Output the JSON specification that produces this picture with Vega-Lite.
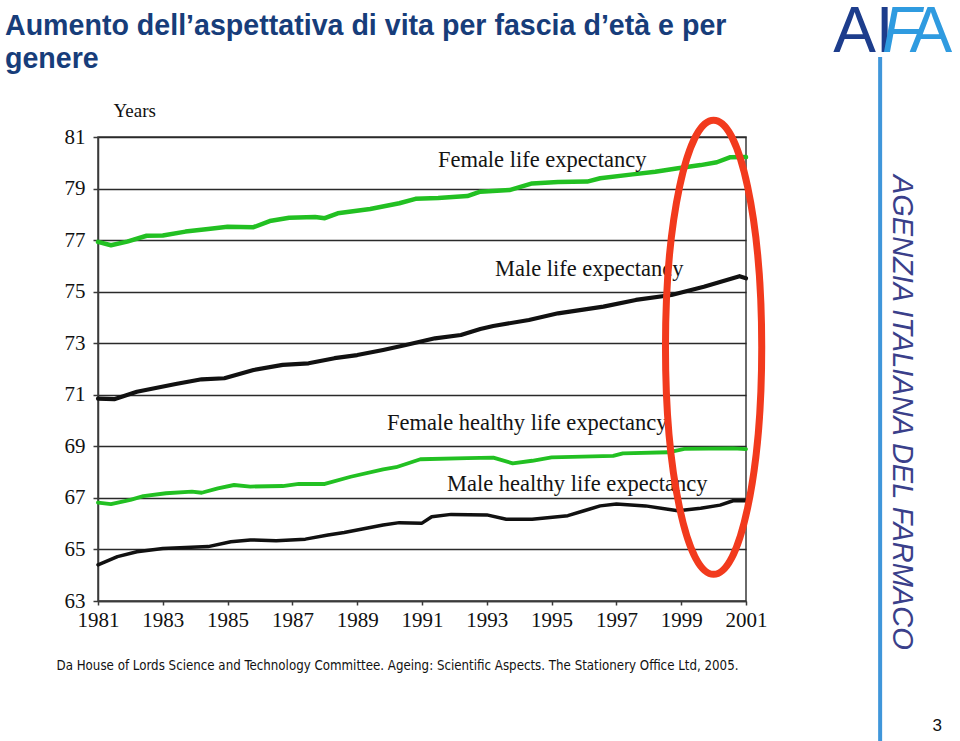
{
  "$schema": "https://vega.github.io/schema/vega-lite/v6.json",
  "width": 648,
  "height": 464,
  "autosize": {"type": "none"},
  "padding": {"left": 98, "top": 137, "right": 214, "bottom": 140},
  "background": "white",
  "config": {
    "view": {"stroke": "#3a3a3a", "strokeWidth": 1.5},
    "axis": {"labelFont": "Liberation Serif", "titleFont": "Liberation Serif"}
  },
  "title": {
    "text": ["Aumento dell’aspettativa di vita per fascia d’età e per", "genere"],
    "anchor": "start",
    "frame": "group",
    "orient": "top",
    "font": "Liberation Sans",
    "fontSize": 28.6,
    "fontWeight": "bold",
    "color": "#173d7a",
    "lineHeight": 33,
    "dx": -93,
    "dy": 92,
    "offset": 20
  },
  "datasets": {
    "series": [
      {"series": "Female life expectancy", "year": 1981.0, "value": 76.93},
      {"series": "Female life expectancy", "year": 1981.4, "value": 76.8},
      {"series": "Female life expectancy", "year": 1981.9, "value": 76.94},
      {"series": "Female life expectancy", "year": 1982.5, "value": 77.17},
      {"series": "Female life expectancy", "year": 1983.0, "value": 77.18},
      {"series": "Female life expectancy", "year": 1983.7, "value": 77.33},
      {"series": "Female life expectancy", "year": 1984.4, "value": 77.43},
      {"series": "Female life expectancy", "year": 1985.0, "value": 77.52},
      {"series": "Female life expectancy", "year": 1985.8, "value": 77.5},
      {"series": "Female life expectancy", "year": 1986.3, "value": 77.74},
      {"series": "Female life expectancy", "year": 1986.9, "value": 77.87},
      {"series": "Female life expectancy", "year": 1987.7, "value": 77.9},
      {"series": "Female life expectancy", "year": 1988.0, "value": 77.85},
      {"series": "Female life expectancy", "year": 1988.4, "value": 78.04},
      {"series": "Female life expectancy", "year": 1989.4, "value": 78.21},
      {"series": "Female life expectancy", "year": 1990.3, "value": 78.43},
      {"series": "Female life expectancy", "year": 1990.8, "value": 78.6},
      {"series": "Female life expectancy", "year": 1991.5, "value": 78.63},
      {"series": "Female life expectancy", "year": 1992.4, "value": 78.71},
      {"series": "Female life expectancy", "year": 1992.8, "value": 78.88},
      {"series": "Female life expectancy", "year": 1993.7, "value": 78.94},
      {"series": "Female life expectancy", "year": 1994.4, "value": 79.2},
      {"series": "Female life expectancy", "year": 1995.2, "value": 79.25},
      {"series": "Female life expectancy", "year": 1996.1, "value": 79.27},
      {"series": "Female life expectancy", "year": 1996.5, "value": 79.4},
      {"series": "Female life expectancy", "year": 1997.5, "value": 79.55},
      {"series": "Female life expectancy", "year": 1998.2, "value": 79.65},
      {"series": "Female life expectancy", "year": 1998.9, "value": 79.79},
      {"series": "Female life expectancy", "year": 1999.6, "value": 79.91},
      {"series": "Female life expectancy", "year": 2000.1, "value": 80.02},
      {"series": "Female life expectancy", "year": 2000.5, "value": 80.21},
      {"series": "Female life expectancy", "year": 2001.0, "value": 80.22},

      {"series": "Male life expectancy", "year": 1981.0, "value": 70.85},
      {"series": "Male life expectancy", "year": 1981.5, "value": 70.83},
      {"series": "Male life expectancy", "year": 1982.2, "value": 71.12},
      {"series": "Male life expectancy", "year": 1983.4, "value": 71.42},
      {"series": "Male life expectancy", "year": 1984.2, "value": 71.6},
      {"series": "Male life expectancy", "year": 1984.9, "value": 71.64},
      {"series": "Male life expectancy", "year": 1985.8, "value": 71.96},
      {"series": "Male life expectancy", "year": 1986.7, "value": 72.16},
      {"series": "Male life expectancy", "year": 1987.5, "value": 72.22},
      {"series": "Male life expectancy", "year": 1988.3, "value": 72.42},
      {"series": "Male life expectancy", "year": 1989.0, "value": 72.54},
      {"series": "Male life expectancy", "year": 1989.8, "value": 72.74},
      {"series": "Male life expectancy", "year": 1990.5, "value": 72.93},
      {"series": "Male life expectancy", "year": 1991.4, "value": 73.19},
      {"series": "Male life expectancy", "year": 1992.2, "value": 73.32},
      {"series": "Male life expectancy", "year": 1992.8, "value": 73.55},
      {"series": "Male life expectancy", "year": 1993.2, "value": 73.67},
      {"series": "Male life expectancy", "year": 1994.3, "value": 73.9},
      {"series": "Male life expectancy", "year": 1995.2, "value": 74.16},
      {"series": "Male life expectancy", "year": 1996.6, "value": 74.42},
      {"series": "Male life expectancy", "year": 1997.6, "value": 74.68},
      {"series": "Male life expectancy", "year": 1998.7, "value": 74.87},
      {"series": "Male life expectancy", "year": 1999.7, "value": 75.19},
      {"series": "Male life expectancy", "year": 2000.8, "value": 75.6},
      {"series": "Male life expectancy", "year": 2001.0, "value": 75.52},

      {"series": "Female healthy life expectancy", "year": 1981.0, "value": 66.82},
      {"series": "Female healthy life expectancy", "year": 1981.4, "value": 66.76},
      {"series": "Female healthy life expectancy", "year": 1982.0, "value": 66.92},
      {"series": "Female healthy life expectancy", "year": 1982.4, "value": 67.07},
      {"series": "Female healthy life expectancy", "year": 1983.1, "value": 67.18},
      {"series": "Female healthy life expectancy", "year": 1983.9, "value": 67.24},
      {"series": "Female healthy life expectancy", "year": 1984.2, "value": 67.2},
      {"series": "Female healthy life expectancy", "year": 1984.7, "value": 67.37},
      {"series": "Female healthy life expectancy", "year": 1985.2, "value": 67.5},
      {"series": "Female healthy life expectancy", "year": 1985.7, "value": 67.44},
      {"series": "Female healthy life expectancy", "year": 1986.7, "value": 67.46},
      {"series": "Female healthy life expectancy", "year": 1987.2, "value": 67.54},
      {"series": "Female healthy life expectancy", "year": 1988.0, "value": 67.54},
      {"series": "Female healthy life expectancy", "year": 1988.8, "value": 67.82},
      {"series": "Female healthy life expectancy", "year": 1989.8, "value": 68.11},
      {"series": "Female healthy life expectancy", "year": 1990.2, "value": 68.19},
      {"series": "Female healthy life expectancy", "year": 1990.95, "value": 68.5},
      {"series": "Female healthy life expectancy", "year": 1992.4, "value": 68.54},
      {"series": "Female healthy life expectancy", "year": 1993.2, "value": 68.56},
      {"series": "Female healthy life expectancy", "year": 1993.8, "value": 68.34},
      {"series": "Female healthy life expectancy", "year": 1994.4, "value": 68.44},
      {"series": "Female healthy life expectancy", "year": 1995.0, "value": 68.57},
      {"series": "Female healthy life expectancy", "year": 1996.9, "value": 68.63},
      {"series": "Female healthy life expectancy", "year": 1997.2, "value": 68.73},
      {"series": "Female healthy life expectancy", "year": 1998.6, "value": 68.77},
      {"series": "Female healthy life expectancy", "year": 1999.1, "value": 68.9},
      {"series": "Female healthy life expectancy", "year": 2000.6, "value": 68.92},
      {"series": "Female healthy life expectancy", "year": 2001.0, "value": 68.89},

      {"series": "Male healthy life expectancy", "year": 1981.0, "value": 64.4},
      {"series": "Male healthy life expectancy", "year": 1981.6, "value": 64.72},
      {"series": "Male healthy life expectancy", "year": 1982.2, "value": 64.91},
      {"series": "Male healthy life expectancy", "year": 1983.0, "value": 65.04},
      {"series": "Male healthy life expectancy", "year": 1984.4, "value": 65.11},
      {"series": "Male healthy life expectancy", "year": 1985.1, "value": 65.3},
      {"series": "Male healthy life expectancy", "year": 1985.7, "value": 65.37},
      {"series": "Male healthy life expectancy", "year": 1986.5, "value": 65.34},
      {"series": "Male healthy life expectancy", "year": 1987.4, "value": 65.4},
      {"series": "Male healthy life expectancy", "year": 1988.1, "value": 65.56},
      {"series": "Male healthy life expectancy", "year": 1988.6, "value": 65.66},
      {"series": "Male healthy life expectancy", "year": 1989.8, "value": 65.95},
      {"series": "Male healthy life expectancy", "year": 1990.3, "value": 66.04},
      {"series": "Male healthy life expectancy", "year": 1991.0, "value": 66.02},
      {"series": "Male healthy life expectancy", "year": 1991.3, "value": 66.27},
      {"series": "Male healthy life expectancy", "year": 1991.9, "value": 66.36},
      {"series": "Male healthy life expectancy", "year": 1993.0, "value": 66.34},
      {"series": "Male healthy life expectancy", "year": 1993.6, "value": 66.17},
      {"series": "Male healthy life expectancy", "year": 1994.4, "value": 66.17},
      {"series": "Male healthy life expectancy", "year": 1995.5, "value": 66.31},
      {"series": "Male healthy life expectancy", "year": 1996.0, "value": 66.5},
      {"series": "Male healthy life expectancy", "year": 1996.5, "value": 66.69},
      {"series": "Male healthy life expectancy", "year": 1997.0, "value": 66.76},
      {"series": "Male healthy life expectancy", "year": 1997.9, "value": 66.69},
      {"series": "Male healthy life expectancy", "year": 1998.9, "value": 66.5},
      {"series": "Male healthy life expectancy", "year": 1999.6, "value": 66.6},
      {"series": "Male healthy life expectancy", "year": 2000.2, "value": 66.72},
      {"series": "Male healthy life expectancy", "year": 2000.6, "value": 66.89},
      {"series": "Male healthy life expectancy", "year": 2001.0, "value": 66.89}
    ],
    "labels": [
      {"label": "Female life expectancy", "year": 1991.49, "value": 80.11},
      {"label": "Male life expectancy", "year": 1993.25, "value": 75.88},
      {"label": "Female healthy life expectancy", "year": 1989.92, "value": 69.91},
      {"label": "Male healthy life expectancy", "year": 1991.77, "value": 67.55}
    ],
    "highlight": [
      {"year": 2000.0, "value": 72.84}
    ]
  },
  "layer": [
    {
      "data": {"name": "series"},
      "mark": {"type": "line", "strokeCap": "round", "strokeJoin": "round"},
      "encoding": {
        "x": {
          "field": "year", "type": "quantitative",
          "scale": {"domain": [1981, 2001], "nice": false, "zero": false},
          "axis": {
            "orient": "bottom",
            "values": [1981, 1983, 1985, 1987, 1989, 1991, 1993, 1995, 1997, 1999, 2001],
            "format": "d",
            "grid": false,
            "domainColor": "#3a3a3a", "domainWidth": 1.5,
            "tickColor": "#3a3a3a", "tickSize": 4, "tickWidth": 1.5,
            "labelFontSize": 21, "labelColor": "#111", "labelPadding": 4,
            "labelOverlap": false,
            "labelFlush": false,
            "title": "Da House of Lords Science and Technology Committee. Ageing: Scientific Aspects. The Stationery Office Ltd, 2005.",
            "titleFont": "Liberation Sans Narrow, DejaVu Sans Condensed, Roboto Condensed, Roboto",
            "titleFontSize": 13.2,
            "titleFontWeight": "normal",
            "titleColor": "#111",
            "titleAlign": "center",
            "titleBaseline": "middle",
            "titleX": 299,
            "titleY": 64
          }
        },
        "y": {
          "field": "value", "type": "quantitative",
          "scale": {"domain": [63, 81], "nice": false, "zero": false},
          "axis": {
            "orient": "left",
            "values": [63, 65, 67, 69, 71, 73, 75, 77, 79, 81],
            "grid": true, "gridColor": "#2a2a2a", "gridWidth": 1.5,
            "domainColor": "#3a3a3a", "domainWidth": 1.5,
            "tickColor": "#3a3a3a", "tickSize": 5, "tickWidth": 1.5,
            "labelFontSize": 21, "labelColor": "#111", "labelPadding": 8,
            "labelFlush": false,
            "title": "Years",
            "titleAngle": 0,
            "titleAlign": "left",
            "titleBaseline": "middle",
            "titleFontSize": 19,
            "titleFontWeight": "normal",
            "titleColor": "#111",
            "titleX": 15,
            "titleY": -27
          }
        },
        "color": {
          "field": "series", "type": "nominal",
          "scale": {
            "domain": ["Female life expectancy", "Male life expectancy", "Female healthy life expectancy", "Male healthy life expectancy"],
            "range": ["#22c022", "#111111", "#22c022", "#111111"]
          },
          "legend": null
        },
        "strokeWidth": {
          "field": "series", "type": "nominal",
          "scale": {
            "domain": ["Female life expectancy", "Male life expectancy", "Female healthy life expectancy", "Male healthy life expectancy"],
            "range": [4.5, 3.5, 4.5, 3.5]
          },
          "legend": null
        }
      }
    },
    {
      "data": {"name": "labels"},
      "mark": {"type": "text", "align": "left", "baseline": "middle", "font": "Liberation Serif", "fontSize": 22.5, "color": "#141414"},
      "encoding": {
        "x": {"field": "year", "type": "quantitative"},
        "y": {"field": "value", "type": "quantitative"},
        "text": {"field": "label", "type": "nominal"}
      }
    },
    {
      "data": {"name": "highlight"},
      "mark": {
        "type": "point",
        "shape": "M -0.212 0 A 0.212 1 0 1 0 0.212 0 A 0.212 1 0 1 0 -0.212 0 Z",
        "size": 206116,
        "filled": false,
        "stroke": "#f23a1d",
        "strokeWidth": 7,
        "opacity": 1
      },
      "encoding": {
        "x": {"field": "year", "type": "quantitative"},
        "y": {"field": "value", "type": "quantitative"}
      }
    },
    {
      "data": {"values": [{}]},
      "mark": {"type": "rule", "stroke": "#3f96da", "strokeWidth": 4},
      "encoding": {
        "x": {"datum": 2005.14, "type": "quantitative"},
        "y": {"datum": 84.1, "type": "quantitative"},
        "y2": {"datum": 57.5}
      }
    },
    {
      "data": {"values": [{}]},
      "mark": {"type": "text", "text": "AGENZIA ITALIANA DEL FARMACO", "angle": 90, "align": "center", "baseline": "middle", "font": "Liberation Sans", "fontSize": 29, "fontStyle": "italic", "color": "#3a3f8a"},
      "encoding": {
        "x": {"datum": 2005.81, "type": "quantitative"},
        "y": {"datum": 70.32, "type": "quantitative"}
      }
    },
    {
      "data": {"values": [{}]},
      "mark": {"type": "text", "text": "AI", "align": "left", "baseline": "alphabetic", "font": "Liberation Sans", "fontSize": 64, "color": "#1d3d8c"},
      "encoding": {
        "x": {"datum": 2003.69, "type": "quantitative"},
        "y": {"datum": 84.29, "type": "quantitative"}
      }
    },
    {
      "data": {"values": [{}]},
      "mark": {"type": "text", "text": "F", "align": "left", "baseline": "alphabetic", "font": "Liberation Sans", "fontSize": 64, "fontStyle": "italic", "color": "#2f9be0"},
      "encoding": {
        "x": {"datum": 2005.2, "type": "quantitative"},
        "y": {"datum": 84.29, "type": "quantitative"}
      }
    },
    {
      "data": {"values": [{}]},
      "mark": {"type": "text", "text": "A", "align": "left", "baseline": "alphabetic", "font": "Liberation Sans", "fontSize": 64, "color": "#2f9be0"},
      "encoding": {
        "x": {"datum": 2006.05, "type": "quantitative"},
        "y": {"datum": 84.29, "type": "quantitative"}
      }
    },
    {
      "data": {"values": [{}]},
      "mark": {"type": "text", "text": "3", "align": "center", "baseline": "alphabetic", "font": "Liberation Sans", "fontSize": 17, "color": "#111"},
      "encoding": {
        "x": {"datum": 2006.9, "type": "quantitative"},
        "y": {"datum": 57.94, "type": "quantitative"}
      }
    }
  ]
}
